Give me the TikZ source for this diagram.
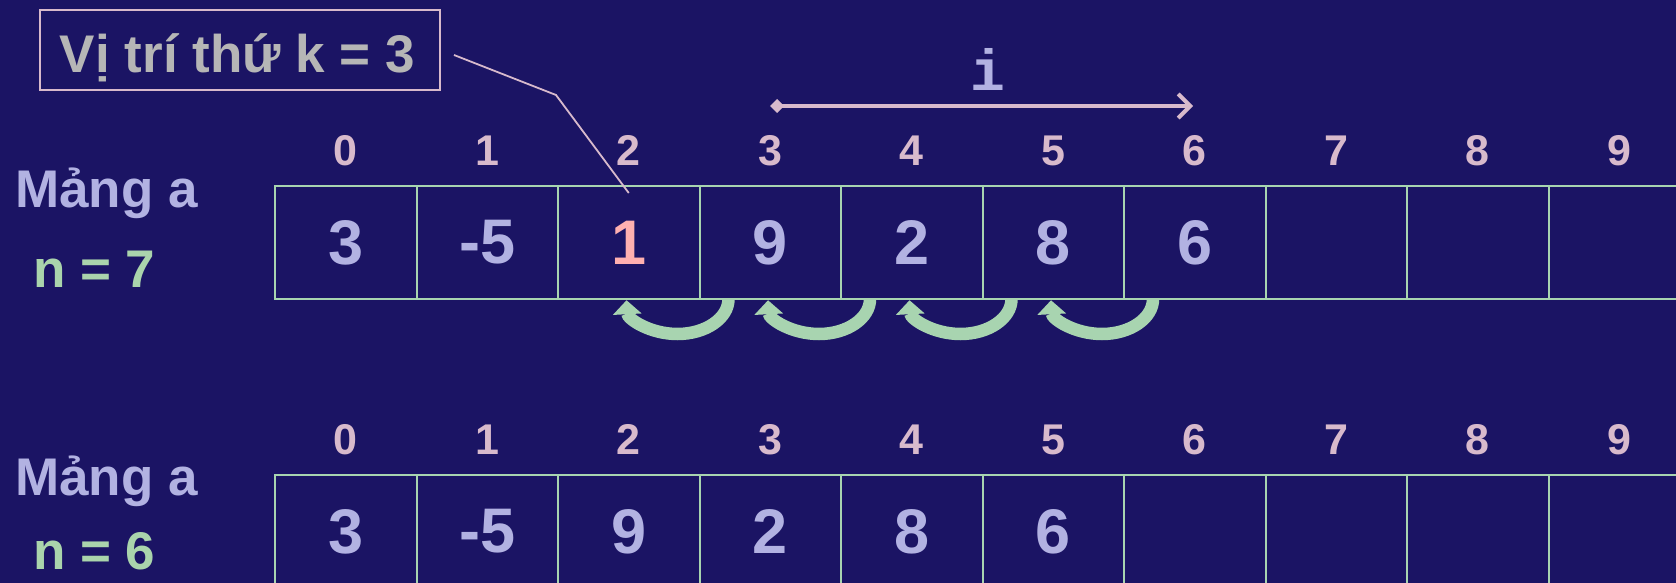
\documentclass[tikz,border=0pt]{standalone}
\usepackage{fontspec}
\setmainfont{Liberation Sans}
\newfontfamily\monof{Liberation Mono}
\usetikzlibrary{arrows.meta,calc}
\definecolor{bgc}{RGB}{27,20,100}
\definecolor{idxc}{RGB}{216,186,204}
\definecolor{valc}{RGB}{178,178,226}
\definecolor{hic}{RGB}{255,176,176}
\definecolor{gridc}{RGB}{168,212,176}
\definecolor{nc}{RGB}{170,212,172}
\definecolor{greyc}{RGB}{182,182,182}
\definecolor{pinkc}{RGB}{216,186,204}
\begin{document}
\begin{tikzpicture}[x=1pt,y=-1pt,
  cell/.style={draw=gridc, line width=2pt, minimum width=141.5pt, minimum height=113pt,
    inner sep=0pt, outer sep=0pt, text=valc, font=\fontsize{63}{63}\selectfont\bfseries},
  idx/.style={anchor=base, inner sep=0pt, text=idxc, font=\fontsize{43}{43}\selectfont\bfseries},
  lab/.style={anchor=base west, inner sep=0pt, font=\fontsize{53}{53}\selectfont\bfseries},
  curv/.style={draw=gridc, line width=12.5pt, -{Triangle[length=14pt,width=28pt]}},
]
\useasboundingbox (0,0) rectangle (1676,583);
\fill[bgc] (0,0) rectangle (1676,583);
\clip (0,0) rectangle (1676,583);

% top array
\node[cell] (a0) at (345.75,242.5) {3};
\node[cell] (a1) at (487.25,242.5) {-5};
\node[cell] (a2) at (628.75,242.5) {\textcolor{hic}{1}};
\node[cell] (a3) at (770.25,242.5) {9};
\node[cell] (a4) at (911.75,242.5) {2};
\node[cell] (a5) at (1053.25,242.5) {8};
\node[cell] (a6) at (1194.75,242.5) {6};
\node[cell] (a7) at (1336.25,242.5) {};
\node[cell] (a8) at (1477.75,242.5) {};
\node[cell] (a9) at (1619.25,242.5) {};

% bottom array
\node[cell] (c0) at (345.75,531.5) {3};
\node[cell] (c1) at (487.25,531.5) {-5};
\node[cell] (c2) at (628.75,531.5) {9};
\node[cell] (c3) at (770.25,531.5) {2};
\node[cell] (c4) at (911.75,531.5) {8};
\node[cell] (c5) at (1053.25,531.5) {6};
\node[cell] (c6) at (1194.75,531.5) {};
\node[cell] (c7) at (1336.25,531.5) {};
\node[cell] (c8) at (1477.75,531.5) {};
\node[cell] (c9) at (1619.25,531.5) {};

% indices
\foreach \k in {0,...,9} {
  \node[idx] (t\k) at (345.75+141.5*\k,165) {\k};
  \node[idx] (b\k) at (345.75+141.5*\k,454) {\k};
}

% labels
\node[lab, text=valc] (ma1) at (15,207) {Mảng a};
\node[lab, text=nc] (n1) at (33,287) {n = 7};
\node[lab, text=valc] (ma2) at (15,495) {Mảng a};
\node[lab, text=nc] (n2) at (33,569) {n = 6};

% callout
\node[draw=pinkc, line width=2pt, minimum width=400pt, minimum height=80pt, inner sep=0pt] (kbox) at (240,50) {};
\node[anchor=base, inner sep=0pt, text=greyc, font=\fontsize{53}{53}\selectfont\bfseries] (ktext) at (237.5,73) {Vị trí thứ k = 3};
\draw[pinkc, line width=1.8pt] ($(kbox.east)+(13,5)$) -- (556,95) -- ($(a2.north)+(0,7)$);

% i arrow
\coordinate (is) at (770,106);
\coordinate (ie) at (1193,106);
\draw[pinkc, line width=4pt, {Diamond[length=14pt,width=14pt]}-{Straight Barb[length=12pt,width=24pt]}] (is) -- (ie);
\node[anchor=base, inner sep=0pt, text=valc, font=\monof\fontsize{58}{58}\selectfont\bfseries] (ilab) at (988,91) {i};

% curved shift arrows
\foreach \k in {3,...,6}
  \draw[curv] ($(a\k.south west)+(29,0)$) arc[start angle=0, end angle=178, x radius=51, y radius=35];
\end{tikzpicture}
\end{document}
